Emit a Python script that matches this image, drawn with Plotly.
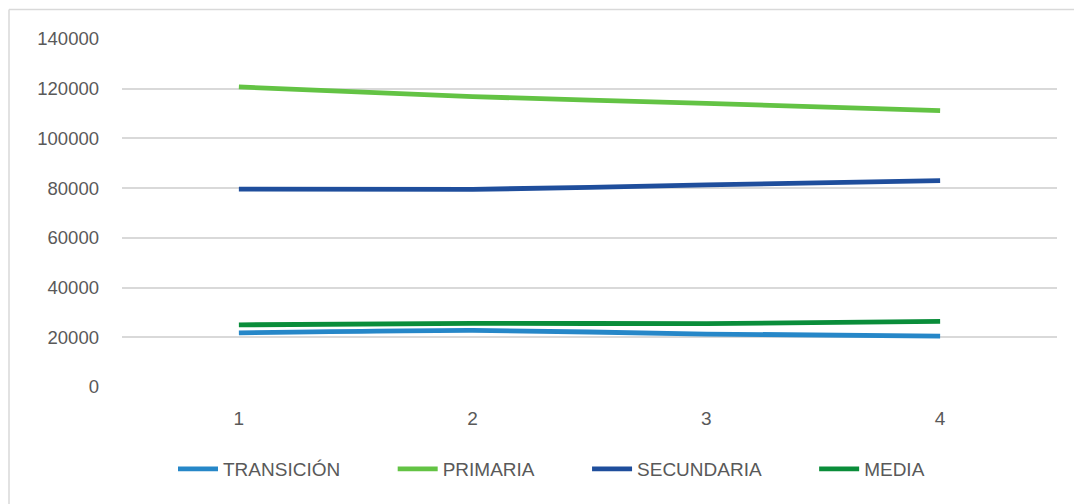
import plotly.graph_objects as go

# values
categories = [1, 2, 3, 4]
transicion = [21800, 22800, 21300, 20500]
primaria = [120700, 116800, 114100, 111200]
secundaria = [79600, 79500, 81300, 83000]
media = [25000, 25600, 25500, 26400]
y_ticks = [0, 20000, 40000, 60000, 80000, 100000, 120000, 140000]

series = [
    ("TRANSICIÓN", transicion, "#2687C8"),
    ("PRIMARIA", primaria, "#63C344"),
    ("SECUNDARIA", secundaria, "#1F4E9C"),
    ("MEDIA", media, "#0A8D3A"),
]

FONT = "Liberation Sans"
GREY = "#595959"
PAD = "\u00a0" * 9  # widen gaps between legend items, like Excel

fig = go.Figure()
for name, vals, color in series:
    fig.add_trace(
        go.Scatter(
            x=categories, y=vals, name=name + PAD,
            mode="lines",
            line=dict(color=color, width=4.8, shape="spline", smoothing=0.6),
        )
    )

# plot area in pixels: x 122..1057, y 39..387
L, R, T, B = 122, 1057, 39, 387
W, H = R - L, B - T


def px(x):
    return (x - L) / W


def py(y):
    return (B - y) / H


# chart border (top + left only visible)
fig.add_shape(type="line", xref="paper", yref="paper",
              x0=px(9), x1=px(1074), y0=py(9.5), y1=py(9.5),
              line=dict(color="#D9D9D9", width=1.5))
fig.add_shape(type="line", xref="paper", yref="paper",
              x0=px(9), x1=px(9), y0=py(9.5), y1=py(504),
              line=dict(color="#D9D9D9", width=1.5))

fig.update_layout(
    width=1074, height=504,
    margin=dict(l=L, r=1074 - R, t=T, b=504 - B),
    plot_bgcolor="white", paper_bgcolor="white",
    font=dict(family=FONT, color=GREY, size=18),
    showlegend=True,
    legend=dict(
        orientation="h", xanchor="center", x=px(575),
        yanchor="middle", y=py(469),
        font=dict(size=19, color=GREY),
        itemwidth=40, traceorder="normal",
        bgcolor="rgba(0,0,0,0)",
    ),
)
fig.update_xaxes(
    type="linear", range=[0.5, 4.5],
    tickvals=categories, ticktext=[str(c) for c in categories],
    showgrid=False, zeroline=False, showline=False,
    ticks="", ticklabelstandoff=18,
    tickfont=dict(size=19, color=GREY),
)
fig.update_yaxes(
    range=[0, 140000], tickvals=y_ticks,
    ticktext=[str(v) for v in y_ticks],
    showgrid=True, gridcolor="#D9D9D9", gridwidth=1.5,
    zeroline=False, showline=False, ticks="",
    ticklabelstandoff=22,
    tickfont=dict(size=18.5, color=GREY),
)

fig.write_html("out.html", config={"displayModeBar": False},
               post_script="document.body.style.margin='0';")
